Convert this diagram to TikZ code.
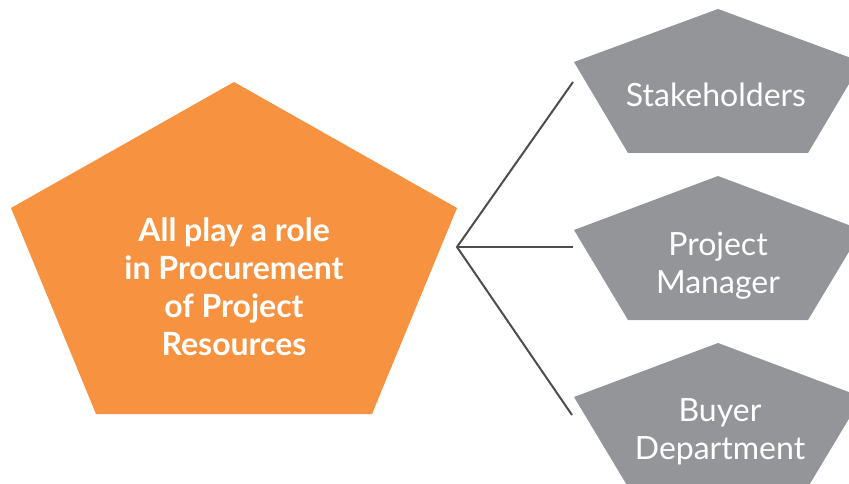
\documentclass[tikz,border=0pt]{standalone}
\usepackage{fontspec}
\setmainfont{Lato}
\definecolor{orng}{HTML}{F79240}
\definecolor{gry}{HTML}{939598}
\definecolor{lnc}{HTML}{4D4D4F}
\begin{document}
\begin{tikzpicture}[x=1pt,y=-1pt,
  maintext/.style={text=white,font=\fontsize{32}{38}\selectfont\bfseries,align=center},
  sidetext/.style={text=white,font=\fontsize{32}{38}\selectfont,align=center},
  conn/.style={draw=lnc,line width=2pt}]
\useasboundingbox (0,0) rectangle (849,484);
\clip (0,0) rectangle (849,484);
% main pentagon
\fill[orng] (234,82) -- (457,208) -- (372,414) -- (96,414) -- (11,208) -- cycle;
% side pentagons
\fill[gry] (718,9) -- (862,62) -- (808,153) -- (628,153) -- (574,62) -- cycle;
\fill[gry] (718,176) -- (862,230) -- (808,320) -- (628,320) -- (574,230) -- cycle;
\fill[gry] (718,343) -- (862,397) -- (808,487) -- (628,487) -- (574,397) -- cycle;
% texts
\node[maintext] (main) at (234,287) {All play a role\\in Procurement\\of Project\\Resources};
\node[sidetext] (s1) at (716,95) {Stakeholders};
\node[sidetext] (s2) at (718,266) {Project\\Manager};
\node[sidetext] (s3) at (720,432) {Buyer\\Department};
% connectors
\coordinate (j) at (457,247);
\coordinate (e1) at (573,82);
\coordinate (e2) at (573,247);
\coordinate (e3) at (572,415);
\draw[conn] (e1) -- (j) -- (e3);
\draw[conn] (j) -- (e2);
\end{tikzpicture}
\end{document}
